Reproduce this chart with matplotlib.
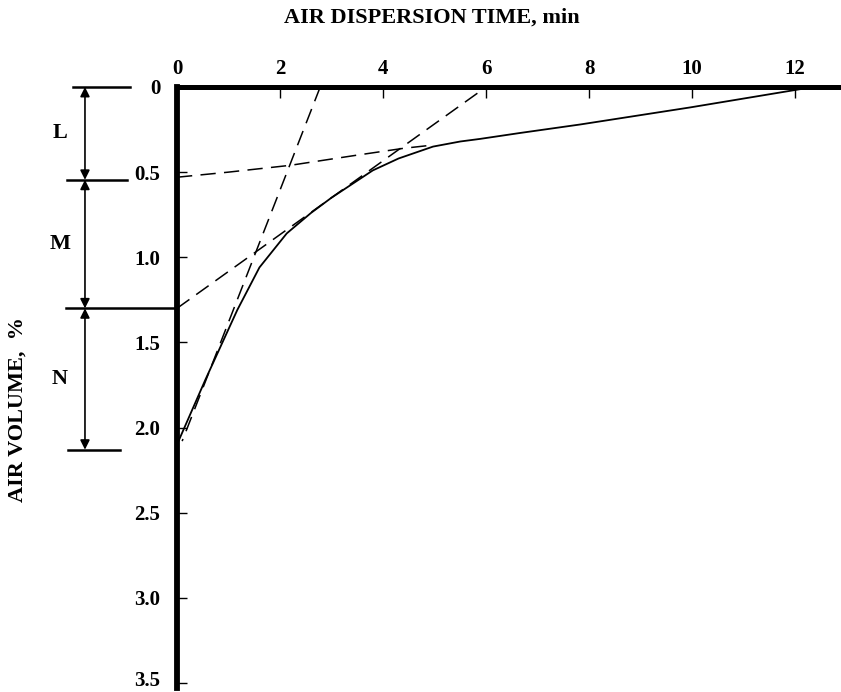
import numpy as np
import matplotlib.pyplot as plt
import matplotlib.transforms as mtransforms

plt.rcParams['font.family'] = ['Liberation Serif', 'DejaVu Serif']
plt.rcParams['font.weight'] = 'bold'
plt.rcParams['lines.scale_dashes'] = False

# measured curve (time, min  vs  air volume, %)
time_min = [0, 0.55, 1.17, 1.6, 2.13, 2.6, 3.0, 3.4, 3.8, 4.3, 4.97,
            5.5, 5.88, 6.66, 7.83, 9.96, 12.35]
air_vol = [2.10, 1.72, 1.31, 1.06, 0.86, 0.74, 0.65, 0.57, 0.49, 0.42, 0.35,
           0.32, 0.305, 0.27, 0.22, 0.12, 0.0]

# construction lines
steep_x = [2.78, 0.1]
steep_y = [0.0, 2.08]
tangent_x = [0.0, 6.0]
tangent_y = [1.30, 0.0]
asym_x = [0.0, 1.0, 2.2, 3.5, 4.4, 5.0]
asym_y = [0.53, 0.50, 0.46, 0.40, 0.36, 0.34]

# zone boundaries L / M / N
zone_bounds = [0.0, 0.545, 1.30, 2.13]
zone_names = ['L', 'M', 'N']

xticks = [0, 2, 4, 6, 8, 10, 12]
yticks = [0, 0.5, 1.0, 1.5, 2.0, 2.5, 3.0, 3.5]

fig = plt.figure(figsize=(8.41, 6.92), dpi=100)
ax = fig.add_axes([177 / 841, 4 / 692, 663 / 841, 1 - 91 / 692])

ax.plot(time_min, air_vol, color='black', lw=1.3)
dash = (11, 6)
ax.plot(steep_x, steep_y, color='black', lw=1.1, dashes=dash)
ax.plot(tangent_x, tangent_y, color='black', lw=1.1, dashes=dash)
ax.plot(asym_x, asym_y, color='black', lw=1.1, dashes=dash)

ax.set_xlim(0, 12.87)
ax.set_ylim(3.53, 0)

for s in ['right', 'bottom']:
    ax.spines[s].set_visible(False)
ax.spines['top'].set_linewidth(3.6)
ax.spines['left'].set_linewidth(4.2)

ax.xaxis.tick_top()
ax.set_xticks(xticks)
ax.set_xticklabels([str(t) for t in xticks], fontsize=15, fontweight='bold')
ax.set_yticks(yticks)
ax.set_yticklabels(['0'] + ['%.1f' % t for t in yticks[1:]], fontsize=15,
                   fontweight='bold')
ax.tick_params(axis='x', direction='in', length=8, width=1, pad=6)
ax.tick_params(axis='y', direction='in', length=7, width=1, pad=12)

# nudge the bottom label up so it stays inside the image
last = ax.get_yticklabels()[-1]
last.set_transform(last.get_transform() +
                   mtransforms.ScaledTranslation(0, 4 / 100, fig.dpi_scale_trans))

# zone annotation left of the axis
px = 1 / 51.5  # data units per pixel horizontally
xa = -92 * px
line_spans = [(-104, -47), (-110, -50), (-111, 0), (-109, -57)]
for b, (x1, x2) in zip(zone_bounds, line_spans):
    ax.plot([x1 * px, x2 * px], [b, b], color='black', lw=1.8, clip_on=False)
for i, name in enumerate(zone_names):
    y1, y2 = zone_bounds[i], zone_bounds[i + 1]
    ax.annotate('', xy=(xa, y1), xytext=(xa, y2), annotation_clip=False,
                arrowprops=dict(arrowstyle='<|-|>', color='black', lw=1.2,
                                mutation_scale=14, shrinkA=0, shrinkB=0))
    ax.text(xa - 25 * px, (y1 + y2) / 2, name, fontsize=16, fontweight='bold',
            ha='center', va='center')

fig.text(432 / 841, 1 - 18 / 692, 'AIR DISPERSION TIME, min', fontsize=16,
         fontweight='bold', ha='center', va='center')
fig.text(18 / 841, 1 - 410 / 692, 'AIR VOLUME,  %', fontsize=16,
         fontweight='bold', ha='center', va='center', rotation=90)

fig.savefig('out.png', dpi=100)
